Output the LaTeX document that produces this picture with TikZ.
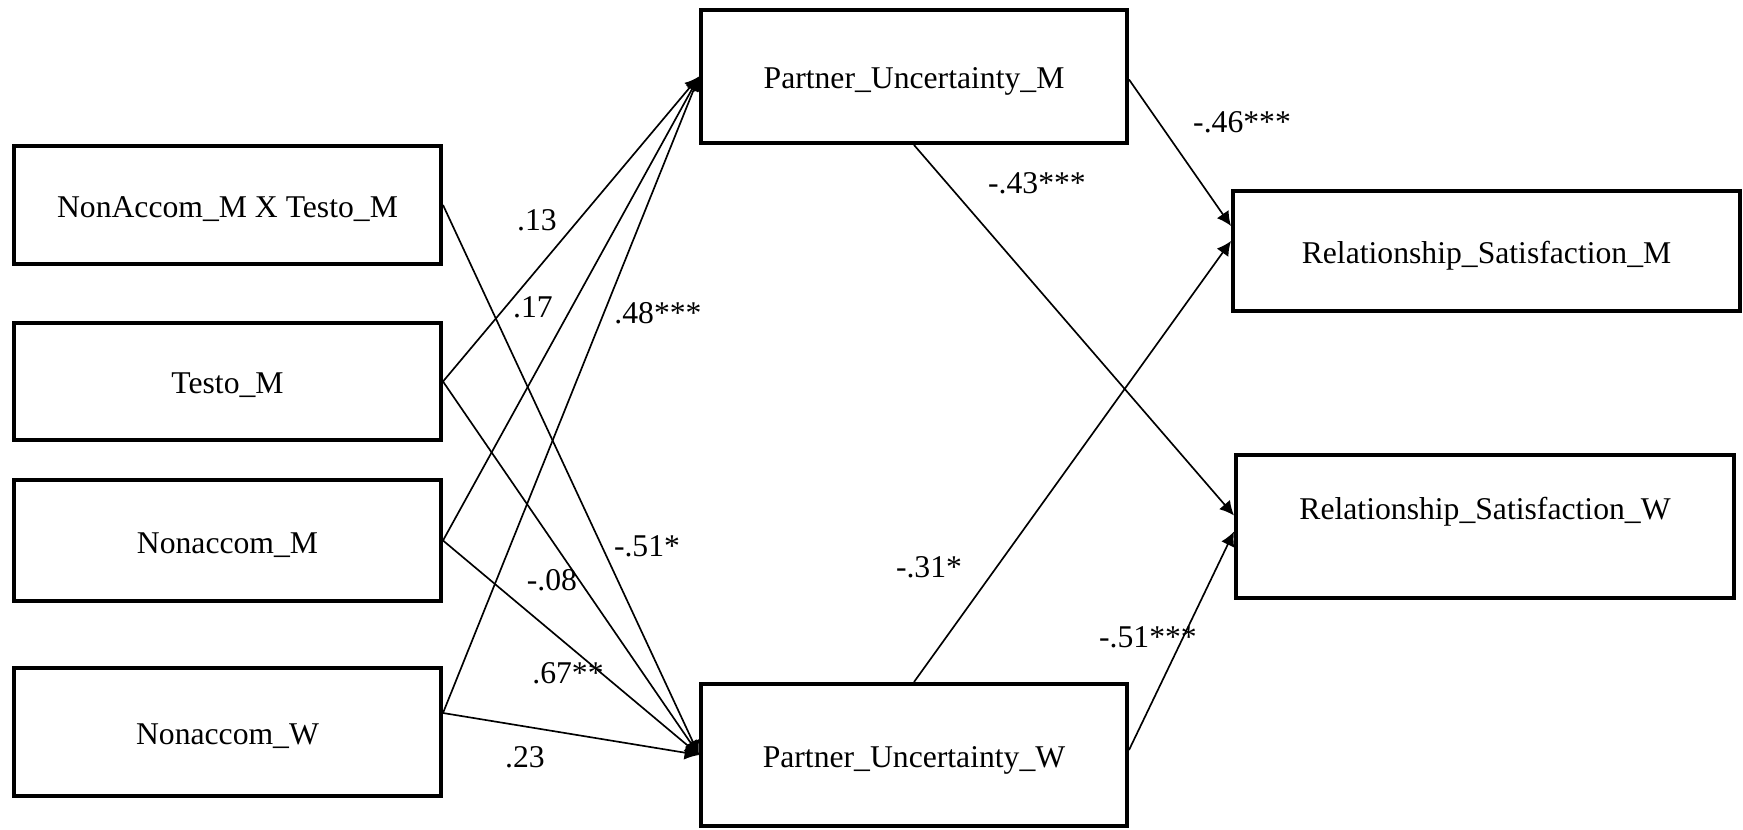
\documentclass[tikz,border=0pt]{standalone}
\usepackage{fontspec}
\setmainfont{Liberation Serif}
\usepackage{tikz}
\usetikzlibrary{arrows.meta}
\usetikzlibrary{calc}

\begin{document}
\begin{tikzpicture}[x=0.3pt, y=-0.3pt,
  varbox/.style={shape=rectangle, draw=black, line width=1.2pt, fill=white, align=center, text height=7.5pt, text depth=0pt, font=\fontsize{9.5}{11}\selectfont},
  coef/.style={inner sep=0pt, font=\fontsize{9.5}{11}\selectfont},
  link/.style={->, >={Latex[length=4.3pt, width=4.3pt]}, line width=0.5pt}]
\useasboundingbox (0,0) rectangle (1743,830) ;
% predictors
\node[varbox, minimum width=128.1pt, minimum height=35.4pt] (na) at (227.5,205) {NonAccom\_M X Testo\_M} ;
\node[varbox, minimum width=128.1pt, minimum height=35.1pt] (testo) at (227.5,381.5) {Testo\_M} ;
\node[varbox, minimum width=128.1pt, minimum height=36.3pt] (nm) at (227.5,540.5) {Nonaccom\_M} ;
\node[varbox, minimum width=128.1pt, minimum height=38.4pt] (nw) at (227.5,732) {Nonaccom\_W} ;
% mediators
\node[varbox, minimum width=127.8pt, minimum height=39.9pt] (pum) at (914,76.5) {Partner\_Uncertainty\_M} ;
\node[varbox, minimum width=127.8pt, minimum height=42.6pt] (puw) at (914,755) {Partner\_Uncertainty\_W} ;
% outcomes
\node[varbox, minimum width=152.1pt, minimum height=36pt] (rsm) at (1486.5,251) {Relationship\_Satisfaction\_M} ;
\node[varbox, minimum width=149.4pt, minimum height=42.9pt, text depth=11.9pt] (rsw) at (1485,526.5) {Relationship\_Satisfaction\_W} ;
% paths
\draw[link] (testo.east) -- (pum.west) ;
\draw[link] (nm.east) -- (pum.west) ;
\draw[link] ($(nw.east)+(0,-19)$) -- (pum.west) ;
\draw[link] (na.east) -- (puw.west) ;
\draw[link] (testo.east) -- (puw.west) ;
\draw[link] (nm.east) -- (puw.west) ;
\draw[link] ($(nw.east)+(0,-19)$) -- (puw.west) ;
\draw[link] ($(pum.east)+(0,3)$) -- ($(rsm.west)+(0,-25)$) ;
\draw[link] (pum.south) -- ($(rsw.west)+(0,-11)$) ;
\draw[link] (puw.north) -- ($(rsm.west)+(0,-10)$) ;
\draw[link] ($(puw.east)+(0,-5)$) -- ($(rsw.west)+(0,5)$) ;
% coefficients
\node[coef] (b13) at (537,220) {.13} ;
\node[coef] (b17) at (533,307) {.17} ;
\node[coef] (b48) at (658,313) {.48***} ;
\node[coef] (b51a) at (647,546) {-.51*} ;
\node[coef] (b08) at (552,580) {-.08} ;
\node[coef] (b67) at (568,673) {.67**} ;
\node[coef] (b23) at (525,757) {.23} ;
\node[coef] (b43) at (1037,183) {-.43***} ;
\node[coef] (b46) at (1242,122) {-.46***} ;
\node[coef] (b31) at (929,567) {-.31*} ;
\node[coef] (b51b) at (1148,637) {-.51***} ;
\end{tikzpicture}
\end{document}
